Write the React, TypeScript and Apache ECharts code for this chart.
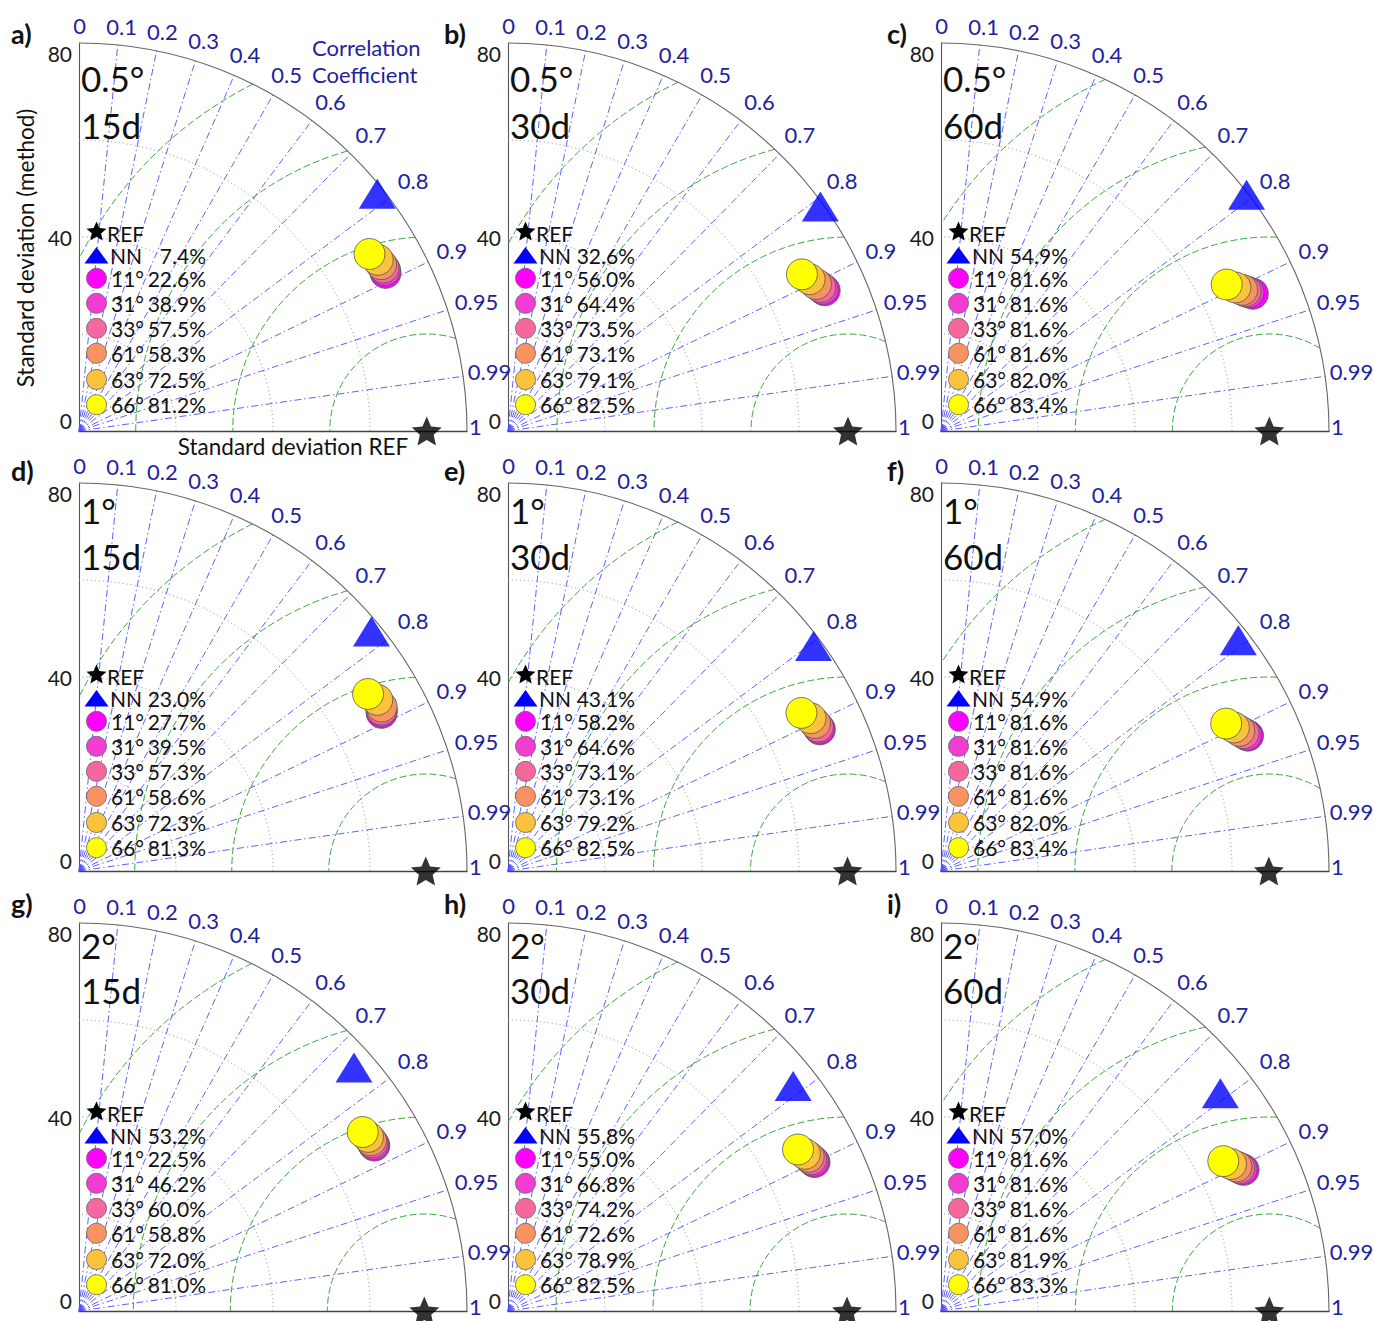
import React, { useEffect, useRef } from 'react';
import * as echarts from 'echarts';

// ---------------- DATA ----------------
const panelLetters = ['a)', 'b)', 'c)', 'd)', 'e)', 'f)', 'g)', 'h)', 'i)'];
const resolutionLabels = ['0.5°', '1°', '2°'];
const windowLabels = ['15d', '30d', '60d'];
const corrTicks = [0, 0.1, 0.2, 0.3, 0.4, 0.5, 0.6, 0.7, 0.8, 0.9, 0.95, 0.99, 1];
const stdTicks = [0, 40, 80];
const stdGridArcs = [20, 40, 60];
const rmsArcs = [20, 40, 60, 80];
const STD_MAX = 80;

// reference standard deviation per panel (a..i)
const refStd = [71.7, 70.1, 67.7, 71.5, 70.0, 67.6, 71.2, 69.9, 67.7];

// NN [std along REF, std perpendicular] per panel
const nnPoints = [
  [61.5, 48.9], [64.4, 46.3], [63.0, 48.7],
  [60.3, 49.4], [63.0, 46.4], [61.3, 47.6],
  [56.7, 50.2], [58.8, 46.4], [57.6, 44.9],
];
const nnSkill = ['7.4%', '32.6%', '54.9%', '23.0%', '43.1%', '54.9%', '53.2%', '55.8%', '57.0%'];

// legend names as printed (ring over the first digit, degree after the second)
const methodNames = ['1\u030A1°', '3\u030A1°', '3\u030A3°', '6\u030A1°', '6\u030A3°', '6\u030A6°'];
const methodColors = ['#ff00ff', '#f23cd2', '#f6679d', '#f89361', '#fbc23c', '#ffff00'];

const m11Points = [[63.2, 32.6], [65.3, 29.0], [64.3, 28.3], [62.4, 32.6], [64.3, 29.2], [63.3, 27.9], [60.9, 34.1], [63.2, 30.7], [62.4, 29.1]];
const m31Points = [[63.1, 33.2], [64.9, 29.3], [63.4, 28.6], [62.4, 33.0], [64.1, 29.5], [62.9, 28.1], [60.7, 34.4], [62.9, 31.0], [62.0, 29.3]];
const m33Points = [[62.8, 33.7], [64.4, 29.7], [62.8, 28.8], [62.4, 33.3], [63.9, 29.8], [62.4, 28.4], [60.5, 34.8], [62.5, 31.3], [61.5, 29.5]];
const m61Points = [[62.3, 34.4], [63.5, 30.3], [62.1, 29.1], [62.4, 33.9], [63.3, 30.5], [61.5, 28.9], [60.2, 35.2], [62.0, 31.8], [60.9, 29.8]];
const m63Points = [[61.6, 35.3], [62.2, 31.3], [60.7, 29.6], [61.5, 35.3], [62.4, 31.5], [60.4, 29.6], [59.6, 35.9], [61.2, 32.4], [59.8, 30.3]];
const m66Points = [[59.9, 36.5], [60.6, 32.3], [58.9, 30.2], [59.6, 36.5], [60.5, 32.6], [58.8, 30.4], [58.5, 36.9], [59.8, 33.3], [58.2, 30.9]];

const m11Skill = ['22.6%', '56.0%', '81.6%', '27.7%', '58.2%', '81.6%', '22.5%', '55.0%', '81.6%'];
const m31Skill = ['38.9%', '64.4%', '81.6%', '39.5%', '64.6%', '81.6%', '46.2%', '66.8%', '81.6%'];
const m33Skill = ['57.5%', '73.5%', '81.6%', '57.3%', '73.1%', '81.6%', '60.0%', '74.2%', '81.6%'];
const m61Skill = ['58.3%', '73.1%', '81.6%', '58.6%', '73.1%', '81.6%', '58.8%', '72.6%', '81.6%'];
const m63Skill = ['72.5%', '79.1%', '82.0%', '72.3%', '79.2%', '82.0%', '72.0%', '78.9%', '81.9%'];
const m66Skill = ['81.2%', '82.5%', '83.4%', '81.3%', '82.5%', '83.4%', '81.0%', '82.5%', '83.3%'];

const methodPoints = [m11Points, m31Points, m33Points, m61Points, m63Points, m66Points];
const methodSkill = [m11Skill, m31Skill, m33Skill, m61Skill, m63Skill, m66Skill];

// ---------------- LAYOUT ----------------
const ORIGIN_X = [79, 508, 941];
const ORIGIN_Y = [431, 871, 1311];
const R_PX = 388;
const LETTER_X = [11, 444, 887];
const LETTER_Y = [33, 470, 903];
const TITLE1_Y = [78, 510, 945];
const TITLE2_Y = [125, 556, 990];
const LEGEND_DY = [0, 3, 0];
const FONT = 'Lato, "Open Sans", "DejaVu Sans", sans-serif';
const BLUE_TXT = '#22229e';
const Z_TOP = 100;

function starPts(cx: number, cy: number, ro: number, ratio = 0.46) {
  const ri = ro * ratio;
  const pts: number[][] = [];
  for (let i = 0; i < 10; i++) {
    const r = i % 2 === 0 ? ro : ri;
    const a = -Math.PI / 2 + (i * Math.PI) / 5;
    pts.push([cx + r * Math.cos(a), cy + r * Math.sin(a)]);
  }
  return pts;
}
const STAR_PATH =
  'path://' +
  starPts(50, 50, 50)
    .map((p, i) => (i === 0 ? 'M' : 'L') + p[0].toFixed(2) + ',' + p[1].toFixed(2))
    .join(' ') +
  ' Z';

function txt(x: number, y: number, text: string, size: number, color: string, align = 'left', extra: any = {}) {
  const { fontWeight, lineHeight, ...rest } = extra;
  return {
    type: 'text',
    x,
    y,
    z: Z_TOP,
    silent: true,
    ...rest,
    style: {
      text,
      fontSize: size,
      fontFamily: FONT,
      fontWeight: fontWeight || 'normal',
      fill: color,
      align,
      textAlign: align,
      verticalAlign: 'middle',
      textVerticalAlign: 'middle',
      ...(lineHeight ? { lineHeight } : {}),
    },
  };
}

function makeBg(k: number) {
  return (params: any, api: any) => {
    const ref = refStd[k];
    const o = api.coord([0, 0]);
    const ppu = api.size([1, 0])[0];
    const ch: any[] = [];
    // std dotted arcs
    stdGridArcs.forEach((r) => {
      ch.push({
        type: 'arc',
        shape: { cx: o[0], cy: o[1], r: r * ppu, startAngle: 0, endAngle: -Math.PI / 2, clockwise: false },
        style: { stroke: '#8c8c8c', lineWidth: 1, lineDash: [1, 3], fill: null },
      });
    });
    // correlation radial lines
    corrTicks.forEach((c) => {
      if (c === 0 || c === 1) return;
      const t = Math.acos(c);
      const e = api.coord([STD_MAX * Math.cos(t), STD_MAX * Math.sin(t)]);
      ch.push({
        type: 'line',
        shape: { x1: o[0], y1: o[1], x2: e[0], y2: e[1] },
        style: { stroke: '#4d4dff', lineWidth: 0.9, lineDash: [7, 3, 1.5, 3] },
      });
    });
    // RMS arcs around REF
    const cc = api.coord([ref, 0]);
    rmsArcs.forEach((R) => {
      const kk = (STD_MAX * STD_MAX - ref * ref - R * R) / (2 * ref * R);
      const phiMin = Math.acos(Math.max(-1, Math.min(1, kk)));
      const phiMax = Math.acos(Math.max(-1, Math.min(1, -ref / R)));
      if (phiMax <= phiMin) return;
      ch.push({
        type: 'arc',
        shape: { cx: cc[0], cy: cc[1], r: R * ppu, startAngle: -phiMin, endAngle: -phiMax, clockwise: false },
        style: { stroke: '#3aa83a', lineWidth: 1, lineDash: [7, 3], fill: null },
      });
    });
    // outer arc
    ch.push({
      type: 'arc',
      shape: { cx: o[0], cy: o[1], r: STD_MAX * ppu, startAngle: 0, endAngle: -Math.PI / 2, clockwise: false },
      style: { stroke: '#666', lineWidth: 1.1, fill: null },
    });
    // correlation labels
    corrTicks.forEach((c) => {
      const tDeg = (Math.acos(c) * 180) / Math.PI;
      const rl = Math.min(83.6, 80.4 + 0.085 * tDeg);
      let d = 0.3 + 1.6 * Math.sin((tDeg * Math.PI) / 180);
      if (c === 0) d = 0.8;
      if (c === 1) d = 0.6;
      if (c === 0.6) d = 1.25;
      const a = ((tDeg + d) * Math.PI) / 180;
      const p = api.coord([rl * Math.cos(a), rl * Math.sin(a)]);
      ch.push({
        type: 'text',
        x: p[0],
        y: p[1],
        style: {
          text: String(c),
          fontSize: 22,
          lineHeight: 20,
          fontFamily: FONT,
          fill: BLUE_TXT,
          align: 'left',
          verticalAlign: 'middle',
        },
      });
    });
    return { type: 'group', children: ch };
  };
}

function buildOption() {
  const grid: any[] = [];
  const xAxis: any[] = [];
  const yAxis: any[] = [];
  const series: any[] = [];
  const graphic: any[] = [];

  for (let k = 0; k < 9; k++) {
    const row = Math.floor(k / 3);
    const col = k % 3;
    const ox = ORIGIN_X[col];
    const oy = ORIGIN_Y[row];
    grid.push({ left: ox, top: oy - R_PX, width: R_PX, height: R_PX, containLabel: false });
    xAxis.push({
      type: 'value', gridIndex: k, min: 0, max: STD_MAX,
      axisLine: { show: true, onZero: false, lineStyle: { color: '#444', width: 1.4 } },
      axisTick: { show: false }, axisLabel: { show: false }, splitLine: { show: false },
    });
    yAxis.push({
      type: 'value', gridIndex: k, min: stdTicks[0], max: stdTicks[2], interval: stdTicks[1] - stdTicks[0],
      axisLine: { show: true, onZero: false, lineStyle: { color: '#555', width: 1.1 } },
      axisTick: { show: false }, splitLine: { show: false },
      axisLabel: {
        fontSize: 21, color: '#1a1a1a', fontFamily: FONT, margin: 7,
        verticalAlignMaxLabel: 'top', verticalAlignMinLabel: 'bottom',
      },
    });
    series.push({
      type: 'custom', xAxisIndex: k, yAxisIndex: k, data: [[0, 0]], clip: false, silent: true, z: 1,
      renderItem: makeBg(k),
    });
    series.push({
      type: 'scatter', xAxisIndex: k, yAxisIndex: k, clip: false, z: 5, silent: true,
      symbol: STAR_PATH, symbolSize: [30, 29],
      itemStyle: { color: '#000' },
      data: [[refStd[k], 0]],
    });
    series.push({
      type: 'scatter', xAxisIndex: k, yAxisIndex: k, clip: false, z: 5, silent: true,
      symbol: 'triangle', symbolSize: [37, 30],
      itemStyle: { color: '#0000ff' },
      data: [nnPoints[k]],
    });
    series.push({
      type: 'scatter', xAxisIndex: k, yAxisIndex: k, clip: false, z: 6, silent: true,
      symbol: 'circle', symbolSize: 31,
      itemStyle: { borderColor: '#555', borderWidth: 0.8, opacity: 1 },
      data: methodPoints.map((pts, m) => ({ value: pts[k], itemStyle: { color: methodColors[m] } })),
    });

    // panel letter and titles
    graphic.push(txt(LETTER_X[col], LETTER_Y[row], panelLetters[k], 27, '#111', 'left', { fontWeight: 'bold' }));
    graphic.push(txt(ox + 2, TITLE1_Y[row], resolutionLabels[row], 35, '#111'));
    graphic.push(txt(ox + 2, TITLE2_Y[row], windowLabels[col], 35, '#111'));

    // legend
    const ly = oy + LEGEND_DY[row];
    const sx = ox + 17.5;
    graphic.push({ type: 'polygon', z: Z_TOP, silent: true, shape: { points: starPts(sx, ly - 199, 10.5) }, style: { fill: '#000' } });
    graphic.push(txt(ox + 28, ly - 198, 'REF', 21, '#111'));
    const ty = ly - 175.5;
    graphic.push({ type: 'polygon', z: Z_TOP, silent: true, shape: { points: [[sx, ty - 8.5], [sx + 12, ty + 8], [sx - 12, ty + 8]] }, style: { fill: '#0000ff' } });
    graphic.push(txt(ox + 31, ty, 'NN', 21, '#111'));
    graphic.push(txt(ox + 127, ty, nnSkill[k], 21, '#111', 'right'));
    const rowsY = [-152.7, -127.7, -102.7, -77.7, -51.5, -26.3];
    methodNames.forEach((nm, m) => {
      const yy = ly + rowsY[m];
      graphic.push({ type: 'circle', z: Z_TOP, silent: true, shape: { cx: sx, cy: yy, r: 10 }, style: { fill: methodColors[m], stroke: '#666', lineWidth: 0.8 } });
      graphic.push(txt(ox + 32, yy, nm, 21, '#111'));
      graphic.push(txt(ox + 127, yy, methodSkill[m][k], 21, '#111', 'right'));
    });
  }

  // panel a annotations
  graphic.push(txt(312, 47.5, 'Correlation', 22, BLUE_TXT, 'left', { lineHeight: 20 }));
  graphic.push(txt(312, 74.5, 'Coefficient', 22, BLUE_TXT, 'left', { lineHeight: 20 }));
  graphic.push(txt(293, 446, 'Standard deviation REF', 22.5, '#111', 'center'));
  graphic.push(txt(25, 248, 'Standard deviation (method)', 22.5, '#111', 'center', { rotation: Math.PI / 2 }));

  return {
    animation: false,
    backgroundColor: '#ffffff',
    grid, xAxis, yAxis, series,
    graphic: { elements: graphic },
  };
}

export default function App() {
  const ref = useRef<HTMLDivElement>(null);
  useEffect(() => {
    const chart = echarts.init(ref.current!, null, { renderer: 'svg' });
    chart.setOption(buildOption() as any);
    return () => chart.dispose();
  }, []);
  return (
    <div
      ref={ref}
      style={{ position: 'fixed', left: 0, top: 0, width: 1374, height: 1321, background: '#fff' }}
    />
  );
}
